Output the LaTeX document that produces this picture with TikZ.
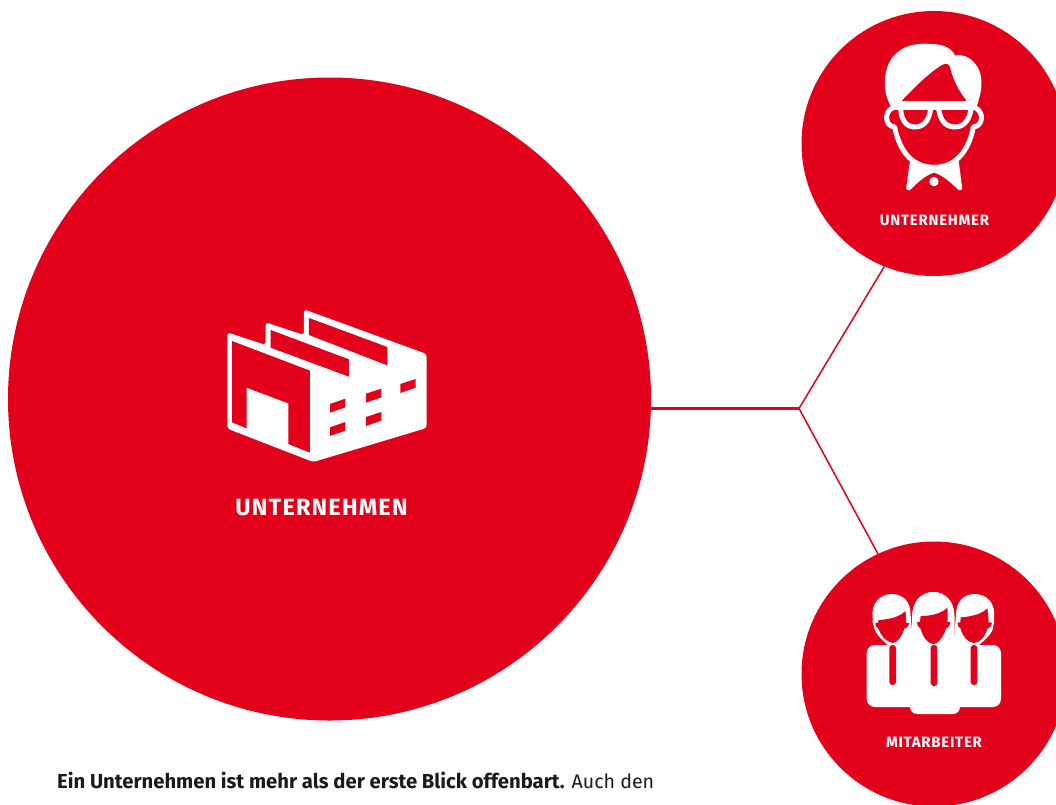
\documentclass[tikz,border=0pt]{standalone}
\usepackage{fontspec}
\setmainfont{Fira Sans}
\newfontfamily\labelface[LetterSpace=5]{Fira Sans}
\definecolor{brandred}{HTML}{E2001A}
\definecolor{bodyink}{HTML}{1A1A1A}
\tikzset{
  disc/.style={circle,fill=brandred,draw=none,inner sep=0pt},
  biglabel/.style={anchor=base,text=white,inner sep=0pt,font=\labelface\bfseries\fontsize{23.5}{26}\selectfont},
  smalllabel/.style={anchor=base,text=white,inner sep=0pt,font=\labelface\bfseries\fontsize{15}{17}\selectfont},
  para/.style={anchor=base west,text=bodyink,inner sep=0pt,font=\fontsize{19.6}{24}\selectfont},
  thickwire/.style={draw=brandred,line width=3.6pt},
  thinwire/.style={draw=brandred,line width=1.5pt},
  iconw/.style={fill=white,draw=none},
  iconr/.style={fill=brandred,draw=none},
}
\begin{document}
\begin{tikzpicture}[x=1pt,y=-1pt]
\useasboundingbox (0,0) rectangle (1056,804);
\clip (0,0) rectangle (1056,804);
\fill[white] (0,0) rectangle (1056,804);
\node[disc,minimum size=643pt] (big) at (329.5,399) {};
\node[disc,minimum size=265pt] (top) at (934,143.5) {};
\node[disc,minimum size=265pt] (bot) at (934,674) {};
\coordinate (hub) at (799,408.5);
\draw[thickwire] (big.east |- hub) -- (hub);
\draw[thinwire] (hub) -- (top.248.3);
\draw[thinwire] (hub) -- (bot.115.2);
\node[biglabel] (lblbig) at (321.5,515.5) {UNTERNEHMEN};
\node[smalllabel] (lbltop) at (934.5,225) {UNTERNEHMER};
\node[smalllabel] (lblbot) at (934,747) {MITARBEITER};
\node[para] (txt) at (57,788.5) {{\bfseries\fontsize{20.25}{24}\selectfont Ein Unternehmen ist mehr als der erste Blick offenbart.} Auch den};
% factory
\begin{scope}[shift={(200,290)},x=0.3333pt,y=-0.3333pt]
\fill[iconw,rounded corners=3pt] (82,127) -- (197,165) -- (197,97) -- (312,135) -- (312,58) -- (680,192) -- (680,414) -- (340,516) -- (82,416) -- cycle;
\fill[iconr] (96,153) -- (330,242) -- (330,488) -- (265,462) -- (265,340) -- (140,293) -- (140,415) -- (96,397) -- cycle;
\fill[iconr] (212,120) -- (447,208) -- (447,260) -- (212,173) -- cycle;
\fill[iconr] (327,84) -- (562,171) -- (562,226) -- (327,135) -- cycle;
\fill[iconr] (390,342) -- (436,326) -- (436,352) -- (390,368) -- cycle;
\fill[iconr] (390,412) -- (436,396) -- (436,422) -- (390,438) -- cycle;
\fill[iconr] (498,311) -- (544,296) -- (544,322) -- (498,338) -- cycle;
\fill[iconr] (498,381) -- (544,366) -- (544,392) -- (498,408) -- cycle;
\fill[iconr] (601,282) -- (647,267) -- (647,293) -- (601,309) -- cycle;
\end{scope}
% entrepreneur
\begin{scope}[shift={(860,30)},x=0.3333pt,y=-0.3333pt]
\fill[iconw,rounded corners=1pt] (150,392) -- (138,478) -- (148,482) .. controls (170,460) and (195,437) .. (222,428) .. controls (250,437) and (275,460) .. (297,482) -- (307,478) -- (296,392) -- cycle;
\draw[white,line width=5pt,fill=brandred,line cap=round,line join=round]
  (100,232) .. controls (82,240) and (78,258) .. (80,268) .. controls (82,282) and (92,290) .. (104,291)
  .. controls (114,345) and (145,412) .. (222,412)
  .. controls (299,412) and (330,345) .. (340,291)
  .. controls (352,290) and (362,282) .. (364,268) .. controls (366,258) and (362,240) .. (344,232) -- cycle;
\fill[iconw] (95,232) .. controls (70,195) and (65,130) .. (95,85) .. controls (125,45) and (170,38) .. (215,42)
  .. controls (245,43) and (272,50) .. (285,76) .. controls (325,70) and (355,100) .. (363,140)
  .. controls (368,175) and (358,210) .. (346,238) -- (320,225) -- (318,210)
  .. controls (295,180) and (280,150) .. (272,118) .. controls (270,100) and (258,98) .. (245,105)
  .. controls (205,130) and (160,175) .. (127,210) -- (118,225) -- cycle;
\draw[white,line width=5pt,line join=round] (105,220) -- (342,220);
\draw[white,line width=5pt,line join=round] (122,222) .. controls (120,265) and (135,291) .. (165,291) .. controls (195,291) and (212,265) .. (213,222);
\draw[white,line width=5pt,line join=round] (235,222) .. controls (236,265) and (253,291) .. (285,291) .. controls (315,291) and (332,265) .. (335,222);
\fill[white] (222,455) circle (14);
\end{scope}
% staff
\begin{scope}[shift={(850,580)},x=0.3333pt,y=-0.3333pt]
\fill[iconw,rounded corners=8pt] (50,195) rectangle (453,381);
\fill[iconw,rounded corners=7pt] (180,340) rectangle (330,402);
% left head
\fill[iconw] (68,114) .. controls (62,70) and (90,42) .. (125,42) .. controls (160,42) and (182,65) .. (182,105) -- (190,200) -- (120,200) .. controls (100,185) and (80,165) .. (74,148) -- (68,128) -- cycle;
% right head
\fill[iconw] (432,114) .. controls (438,70) and (410,42) .. (375,42) .. controls (340,42) and (318,65) .. (318,105) -- (310,200) -- (380,200) .. controls (400,185) and (422,165) .. (428,148) -- (432,128) -- cycle;
% centre head
\fill[iconw] (186,108) .. controls (186,60) and (215,35) .. (250,35) .. controls (285,35) and (314,60) .. (314,108) -- (314,200) -- (186,200) -- cycle;
\draw[brandred,line width=1.3pt] (184,108) .. controls (184,60) and (215,33) .. (250,33) .. controls (285,33) and (316,60) .. (316,108);
% faces
\fill[iconr] (86,120) .. controls (120,118) and (150,110) .. (166,93) .. controls (168,105) and (168,118) .. (168,128) -- (178,130) .. controls (174,140) and (170,145) .. (163,146) .. controls (155,170) and (142,188) .. (128,189) .. controls (107,186) and (92,165) .. (85,146) .. controls (78,142) and (76,138) .. (76,130) -- (84,128) -- cycle;
\fill[iconr] (212,108) .. controls (245,108) and (275,100) .. (292,83) .. controls (294,100) and (293,115) .. (292,125) -- (301,127) .. controls (298,140) and (293,145) .. (288,146) .. controls (280,170) and (265,192) .. (250,193) .. controls (232,190) and (218,170) .. (212,146) .. controls (205,142) and (201,136) .. (201,127) -- (210,125) -- cycle;
\fill[iconr] (332,112) .. controls (365,110) and (395,102) .. (412,85) .. controls (414,100) and (416,115) .. (416,127) -- (426,128) .. controls (424,140) and (418,145) .. (412,146) .. controls (405,170) and (390,188) .. (372,189) .. controls (352,186) and (338,170) .. (332,146) .. controls (326,142) and (322,136) .. (322,128) -- (331,127) -- cycle;
% ties
\fill[iconr,rounded corners=3pt] (118,195) -- (118,315) -- (138,315) -- (138,195) -- cycle;
\fill[iconr,rounded corners=3pt] (242,195) -- (242,318) -- (262,318) -- (262,195) -- cycle;
\fill[iconr,rounded corners=3pt] (362,195) -- (362,315) -- (382,315) -- (382,195) -- cycle;
\end{scope}
\end{tikzpicture}
\end{document}
